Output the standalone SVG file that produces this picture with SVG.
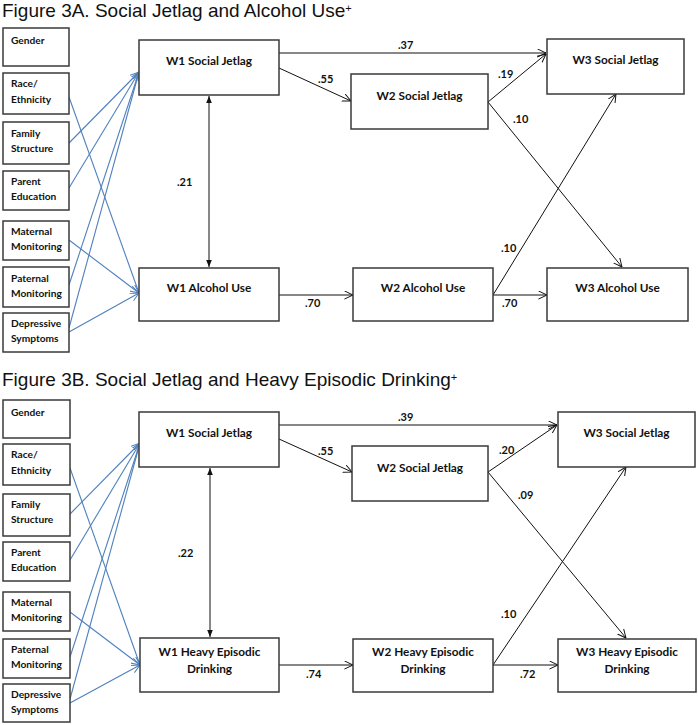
<svg xmlns="http://www.w3.org/2000/svg" width="698" height="725" viewBox="0 0 698 725">
<style>
.bg{fill:#fff}
.box{fill:#fff;stroke:#3a3a3a;stroke-width:1.5}
.t{font-family:Lato,"Liberation Sans",sans-serif;font-weight:bold;font-size:11.8px;fill:#111;text-anchor:middle}
.s{font-family:Lato,"Liberation Sans",sans-serif;font-weight:bold;font-size:10.2px;fill:#111}
.lbl{font-family:Lato,"Liberation Sans",sans-serif;font-weight:bold;font-size:11px;fill:#111}
.title{font-family:"Liberation Sans",Arial,sans-serif;font-size:19px;fill:#111}
.k{fill:none;stroke:#111;stroke-width:1;marker-end:url(#ak)}
.kk{fill:none;stroke:#111;stroke-width:1;marker-end:url(#af);marker-start:url(#af)}
.b{fill:none;stroke:#4F81BD;stroke-width:1.1;marker-end:url(#ab)}
</style>
<defs>
<marker id="ak" viewBox="0 0 10 10" refX="9.5" refY="5" markerWidth="9" markerHeight="9" orient="auto" markerUnits="userSpaceOnUse"><path d="M0,0.5 L9.5,5 L0,9.5" fill="none" stroke="#111" stroke-width="1.1"/></marker>
<marker id="ab" viewBox="0 0 10 10" refX="9.5" refY="5" markerWidth="9" markerHeight="9" orient="auto" markerUnits="userSpaceOnUse"><path d="M0,0.5 L9.5,5 L0,9.5" fill="none" stroke="#4F81BD" stroke-width="1.1"/></marker>
<marker id="af" viewBox="0 0 10 10" refX="10" refY="5" markerWidth="7" markerHeight="7" orient="auto-start-reverse" markerUnits="userSpaceOnUse"><path d="M0,1 L10,5 L0,9 z" fill="#111"/></marker>
</defs>
<rect class="bg" x="0" y="0" width="698" height="725"/>

<text class="title" x="2" y="17">Figure 3A. Social Jetlag and Alcohol Use<tspan font-size="11" dy="-5">+</tspan></text>
<text class="title" x="2" y="386">Figure 3B. Social Jetlag and Heavy Episodic Drinking<tspan font-size="11" dy="-5">+</tspan></text>

<g id="connectors">
<!-- Panel A blue -->
<path class="b" d="M69,97 L139,293"/>
<path class="b" d="M69,143 L139,72"/>
<path class="b" d="M69,188 L139,72"/>
<path class="b" d="M69,240 L139,293"/>
<path class="b" d="M69,285 L139,72"/>
<path class="b" d="M69,328 L139,72"/>
<path class="b" d="M69,332 L139,293"/>
<!-- Panel A black -->
<path class="k" d="M279,53 H546"/>
<path class="k" d="M279,68 L351,101"/>
<path class="k" d="M488,102 L546,54"/>
<path class="k" d="M488,102 L622,267"/>
<path class="k" d="M493,295 L616,94"/>
<path class="k" d="M493,295 H547"/>
<path class="k" d="M279,295 H353"/>
<path class="kk" d="M209,96 V267"/>
<!-- Panel B blue -->
<path class="b" d="M70,468 L140,665"/>
<path class="b" d="M70,514 L140,443"/>
<path class="b" d="M70,560 L140,443"/>
<path class="b" d="M70,612 L140,665"/>
<path class="b" d="M70,657 L140,443"/>
<path class="b" d="M70,699 L140,443"/>
<path class="b" d="M70,703 L140,665"/>
<!-- Panel B black -->
<path class="k" d="M279,425 H557"/>
<path class="k" d="M279,439 L352,472"/>
<path class="k" d="M488,472 L557,425"/>
<path class="k" d="M488,472 L626,638"/>
<path class="k" d="M493,665 L626,467"/>
<path class="k" d="M493,665 H558"/>
<path class="k" d="M279,665 H353"/>
<path class="kk" d="M210,468 V637"/>
<!-- labels A -->
<text class="lbl" x="398" y="49">.37</text>
<text class="lbl" x="318" y="83">.55</text>
<text class="lbl" x="498" y="78">.19</text>
<text class="lbl" x="513" y="123">.10</text>
<text class="lbl" x="501" y="252">.10</text>
<text class="lbl" x="502" y="307">.70</text>
<text class="lbl" x="305" y="307">.70</text>
<text class="lbl" x="177" y="186">.21</text>
<!-- labels B -->
<text class="lbl" x="398" y="421">.39</text>
<text class="lbl" x="318" y="455">.55</text>
<text class="lbl" x="499" y="454">.20</text>
<text class="lbl" x="518" y="499">.09</text>
<text class="lbl" x="501" y="618">.10</text>
<text class="lbl" x="520" y="678">.72</text>
<text class="lbl" x="306" y="678">.74</text>
<text class="lbl" x="178" y="557">.22</text>
</g>

<!-- Panel A left nodes -->
<g id="a-gender"><rect class="box" x="3" y="28" width="66" height="38"/><text class="s" x="11" y="44">Gender</text></g>
<g id="a-race"><rect class="box" x="3" y="73" width="66" height="41"/><text class="s" x="11" y="87">Race/</text><text class="s" x="11" y="103">Ethnicity</text></g>
<g id="a-family"><rect class="box" x="3" y="122" width="66" height="42"/><text class="s" x="11" y="137">Family</text><text class="s" x="11" y="152">Structure</text></g>
<g id="a-parent"><rect class="box" x="3" y="171" width="66" height="39"/><text class="s" x="11" y="185">Parent</text><text class="s" x="11" y="200">Education</text></g>
<g id="a-maternal"><rect class="box" x="3" y="221" width="66" height="39"/><text class="s" x="11" y="235">Maternal</text><text class="s" x="11" y="250">Monitoring</text></g>
<g id="a-paternal"><rect class="box" x="3" y="267" width="66" height="40"/><text class="s" x="11" y="282">Paternal</text><text class="s" x="11" y="297">Monitoring</text></g>
<g id="a-depressive"><rect class="box" x="3" y="313" width="66" height="39"/><text class="s" x="11" y="327">Depressive</text><text class="s" x="11" y="342">Symptoms</text></g>

<!-- Panel A main nodes -->
<g id="a-w1sj"><rect class="box" x="139" y="40" width="140" height="55"/><text class="t" x="209" y="65">W1 Social Jetlag</text></g>
<g id="a-w1au"><rect class="box" x="139" y="268" width="140" height="53"/><text class="t" x="209" y="292">W1 Alcohol Use</text></g>
<g id="a-w2sj"><rect class="box" x="351" y="74" width="137" height="55"/><text class="t" x="419.5" y="100">W2 Social Jetlag</text></g>
<g id="a-w3sj"><rect class="box" x="547" y="39" width="137" height="55"/><text class="t" x="615.5" y="64">W3 Social Jetlag</text></g>
<g id="a-w2au"><rect class="box" x="353" y="268" width="140" height="53"/><text class="t" x="423" y="292">W2 Alcohol Use</text></g>
<g id="a-w3au"><rect class="box" x="547" y="268" width="141" height="53"/><text class="t" x="617.5" y="292">W3 Alcohol Use</text></g>

<!-- Panel B left nodes -->
<g id="b-gender"><rect class="box" x="3" y="400" width="67" height="38"/><text class="s" x="11" y="416">Gender</text></g>
<g id="b-race"><rect class="box" x="3" y="444" width="67" height="41"/><text class="s" x="11" y="458">Race/</text><text class="s" x="11" y="474">Ethnicity</text></g>
<g id="b-family"><rect class="box" x="3" y="494" width="67" height="42"/><text class="s" x="11" y="508">Family</text><text class="s" x="11" y="523">Structure</text></g>
<g id="b-parent"><rect class="box" x="3" y="542" width="67" height="39"/><text class="s" x="11" y="556">Parent</text><text class="s" x="11" y="571">Education</text></g>
<g id="b-maternal"><rect class="box" x="3" y="592" width="67" height="39"/><text class="s" x="11" y="606">Maternal</text><text class="s" x="11" y="621">Monitoring</text></g>
<g id="b-paternal"><rect class="box" x="3" y="639" width="67" height="39"/><text class="s" x="11" y="653">Paternal</text><text class="s" x="11" y="668">Monitoring</text></g>
<g id="b-depressive"><rect class="box" x="3" y="684" width="67" height="38"/><text class="s" x="11" y="698">Depressive</text><text class="s" x="11" y="713">Symptoms</text></g>

<!-- Panel B main nodes -->
<g id="b-w1sj"><rect class="box" x="139" y="412" width="140" height="55"/><text class="t" x="209" y="437">W1 Social Jetlag</text></g>
<g id="b-w1hed"><rect class="box" x="140" y="638" width="139" height="54"/><text class="t" x="209.5" y="656">W1 Heavy Episodic</text><text class="t" x="209.5" y="673">Drinking</text></g>
<g id="b-w2sj"><rect class="box" x="352" y="446" width="136" height="55"/><text class="t" x="420" y="472">W2 Social Jetlag</text></g>
<g id="b-w3sj"><rect class="box" x="558" y="412" width="137" height="55"/><text class="t" x="626.5" y="437">W3 Social Jetlag</text></g>
<g id="b-w2hed"><rect class="box" x="353" y="639" width="140" height="53"/><text class="t" x="423" y="656">W2 Heavy Episodic</text><text class="t" x="423" y="673">Drinking</text></g>
<g id="b-w3hed"><rect class="box" x="558" y="639" width="138" height="53"/><text class="t" x="627" y="656">W3 Heavy Episodic</text><text class="t" x="627" y="673">Drinking</text></g>
</svg>
